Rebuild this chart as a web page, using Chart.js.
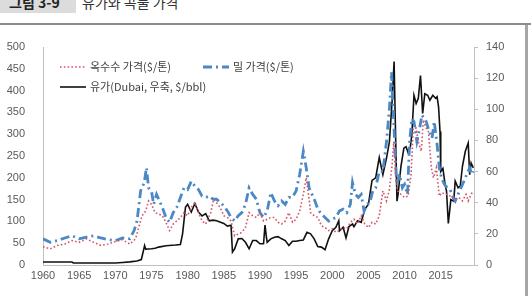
<!DOCTYPE html>
<html>
<head>
<meta charset="utf-8">
<script src="https://cdn.jsdelivr.net/npm/chart.js@4"></script>
<style>
  html, body { margin: 0; padding: 0; background: #fff; }
  body { width: 531px; height: 296px; position: relative; overflow: hidden; font-family: "Noto Sans CJK KR", sans-serif; }
  .fig-no { position: absolute; left: 0; top: -8px; width: 76px; height: 21px; background: #dcdcdc; color: #222; font-weight: bold; font-size: 14px; line-height: 21px; text-indent: 9px; }
  .fig-title { position: absolute; left: 82px; top: -8px; font-size: 14px; line-height: 21px; color: #333; }
  .rule { position: absolute; left: 0; top: 23px; width: 531px; height: 2px; background: #8c8c8c; }
  .frame { position: absolute; left: 525px; top: 25px; width: 3px; height: 271px; background: #a6a6a6; }
  #wrap { position: absolute; left: 0; top: 0; width: 525px; height: 296px; }
</style>
</head>
<body>
<div class="fig-no">그림 3-9</div>
<div class="fig-title">유가와 곡물 가격</div>
<div class="rule"></div>
<div class="frame"></div>
<div id="wrap"><canvas id="chart"></canvas></div>
<script>
// corn price ($/ton), left axis
const cornYears = [1960, 1961, 1962, 1963, 1964, 1965, 1966, 1967, 1968, 1969, 1970, 1971, 1972, 1972.8, 1973.3, 1973.7, 1974.2, 1974.6, 1975, 1975.5, 1976, 1976.5, 1977, 1977.5, 1978, 1978.5, 1979, 1979.5, 1980, 1980.5, 1981, 1981.5, 1982, 1982.5, 1983.2, 1983.6, 1984, 1984.5, 1985, 1985.5, 1986, 1986.5, 1987, 1987.5, 1988, 1988.5, 1989, 1989.5, 1990, 1990.5, 1991, 1991.5, 1992, 1992.5, 1993, 1993.5, 1994, 1994.5, 1995, 1995.5, 1996, 1996.4, 1996.8, 1997, 1997.5, 1998, 1998.5, 1999, 1999.5, 2000, 2000.5, 2001, 2001.5, 2002, 2002.5, 2003, 2003.5, 2004, 2004.5, 2005, 2005.5, 2006, 2006.5, 2007, 2007.5, 2007.9, 2008.3, 2008.5, 2008.8, 2009, 2009.5, 2010, 2010.5, 2010.9, 2011.2, 2011.6, 2011.9, 2012.3, 2012.6, 2012.9, 2013.3, 2013.7, 2014, 2014.4, 2014.8, 2015.2, 2015.6, 2016, 2016.5, 2017, 2017.5, 2018, 2018.5, 2018.8, 2019.2, 2019.5];
const cornPrice = [42, 37, 45, 48, 56, 52, 60, 52, 45, 48, 54, 58, 48, 60, 90, 113, 124, 147, 139, 120, 117, 113, 98, 79, 94, 101, 109, 120, 113, 132, 143, 120, 101, 94, 120, 151, 143, 132, 113, 109, 101, 67, 71, 75, 86, 120, 113, 109, 120, 101, 105, 109, 109, 98, 94, 101, 120, 98, 105, 124, 162, 200, 151, 120, 113, 109, 90, 86, 79, 83, 75, 79, 86, 83, 98, 105, 94, 113, 94, 86, 98, 94, 113, 170, 147, 173, 234, 283, 200, 170, 162, 155, 158, 208, 314, 314, 283, 261, 333, 317, 306, 223, 200, 223, 158, 166, 162, 162, 155, 151, 155, 147, 162, 147, 162, 170];

// wheat price ($/ton), left axis
const wheatYears = [1960, 1961, 1962, 1963, 1964, 1965, 1966, 1967, 1968, 1969, 1970, 1971, 1972, 1972.6, 1973, 1973.5, 1974, 1974.3, 1974.6, 1975, 1975.3, 1975.7, 1976, 1976.5, 1977, 1977.5, 1978, 1978.5, 1979, 1979.5, 1980, 1980.5, 1981, 1981.5, 1982, 1982.5, 1983, 1983.5, 1984, 1984.5, 1985, 1985.5, 1986, 1986.5, 1987, 1987.5, 1988, 1988.5, 1989, 1989.5, 1990, 1990.5, 1991, 1991.5, 1992, 1992.5, 1993, 1993.5, 1994, 1994.5, 1995, 1995.5, 1996, 1996.4, 1996.8, 1997.2, 1997.6, 1998, 1998.5, 1999, 1999.5, 2000, 2000.5, 2001, 2001.5, 2002, 2002.5, 2002.8, 2003.2, 2003.6, 2004, 2004.4, 2004.8, 2005.2, 2005.6, 2006, 2006.5, 2007, 2007.5, 2007.9, 2008.2, 2008.5, 2008.9, 2009.3, 2009.7, 2010, 2010.4, 2010.7, 2011, 2011.3, 2011.7, 2012, 2012.4, 2012.7, 2013, 2013.4, 2013.8, 2014.1, 2014.5, 2014.8, 2015.1, 2015.5, 2015.9, 2016.3, 2016.7, 2017, 2017.4, 2017.8, 2018.2, 2018.6, 2019, 2019.3, 2019.5];
const wheatPrice = [60, 52, 56, 62, 67, 60, 64, 67, 62, 58, 56, 62, 60, 79, 101, 170, 189, 223, 177, 170, 139, 162, 151, 132, 109, 98, 120, 132, 155, 177, 173, 192, 181, 173, 158, 155, 158, 151, 151, 143, 136, 124, 109, 101, 113, 120, 139, 177, 162, 151, 120, 109, 124, 166, 147, 136, 147, 139, 155, 155, 170, 208, 261, 223, 177, 162, 147, 128, 117, 109, 101, 105, 109, 124, 128, 120, 139, 189, 162, 155, 162, 124, 139, 143, 170, 177, 215, 215, 283, 359, 442, 329, 185, 208, 177, 185, 162, 283, 336, 329, 283, 306, 344, 336, 329, 306, 291, 329, 276, 223, 200, 185, 177, 173, 155, 147, 162, 177, 192, 208, 223, 208, 215];

// Dubai crude ($/bbl), right axis
const oilYears = [1960, 1964, 1964.2, 1970, 1971, 1972, 1973, 1973.6, 1974.05, 1974.2, 1975, 1975.5, 1976, 1977, 1978.3, 1979, 1979.3, 1979.7, 1980, 1980.5, 1981, 1981.5, 1982, 1982.5, 1983, 1983.5, 1984, 1985, 1985.5, 1986, 1986.2, 1986.5, 1987, 1987.5, 1988, 1988.5, 1989, 1989.5, 1990, 1990.5, 1990.7, 1990.9, 1991, 1991.5, 1992, 1992.5, 1993, 1993.5, 1994, 1994.5, 1995, 1995.5, 1996, 1996.5, 1997, 1997.5, 1998, 1998.5, 1999, 1999.5, 2000, 2000.5, 2000.9, 2001, 2001.5, 2001.9, 2002.3, 2002.8, 2003, 2003.5, 2004, 2004.5, 2005, 2005.5, 2006, 2006.5, 2007, 2007.5, 2007.9, 2008.3, 2008.55, 2008.7, 2008.95, 2009.1, 2009.5, 2009.9, 2010.2, 2010.5, 2010.8, 2011, 2011.3, 2011.6, 2011.9, 2012.2, 2012.5, 2012.8, 2013.2, 2013.5, 2013.9, 2014.3, 2014.5, 2014.7, 2014.9, 2015, 2015.3, 2015.6, 2015.8, 2016.05, 2016.4, 2016.8, 2017, 2017.4, 2017.7, 2018, 2018.4, 2018.8, 2019, 2019.2, 2019.5];
const oilPrice = [1.9, 1.9, 1.3, 1.3, 1.6, 2.0, 2.6, 3.5, 12.5, 10.2, 10.4, 10.8, 11.5, 12.4, 12.8, 13.2, 20, 37, 39, 34, 39.5, 34, 31.5, 33, 28.4, 28.8, 28.4, 26.7, 25, 25.5, 8.3, 10.4, 16.8, 17, 14.6, 10.4, 15.7, 15.7, 13.6, 13.6, 25.7, 17.8, 14.6, 16.8, 17.8, 18.2, 16.8, 15.7, 12.5, 15.3, 15.3, 15.7, 16.1, 21, 20, 16.8, 11.9, 11.5, 9.8, 16.8, 22, 24.2, 28.4, 22, 24.2, 17.4, 24.6, 26.3, 24.6, 28.4, 27.4, 35.8, 39, 54.3, 56, 69, 58, 68.7, 79, 107, 130.7, 96, 41, 45.4, 63.4, 75, 76, 72, 76, 83.6, 109, 103.7, 107, 121.7, 97.4, 110, 109, 105.8, 109, 107, 108, 101.6, 85.7, 60, 62, 51.8, 47.5, 26.7, 42, 41, 53.9, 49.6, 50.7, 63.4, 73, 78.3, 58, 65.5, 62.4];

const legendLabels = ["옥수수 가격($/톤)", "밀 가격($/톤)", "유가(Dubai, 우축, $/bbl)"];
const leftTicks = [0, 50, 100, 150, 200, 250, 300, 350, 400, 450, 500];
const rightTicks = [0, 20, 40, 60, 80, 100, 120, 140];
const yearTicks = [1960, 1965, 1970, 1975, 1980, 1985, 1990, 1995, 2000, 2005, 2010, 2015];

const pts = (xs, ys) => xs.map((x, i) => ({ x: x, y: ys[i] }));

// legend drawn inside the plot like the excel original
const innerLegend = {
  id: "innerLegend",
  afterDraw(chart) {
    const ctx = chart.ctx;
    const slots = [[60, 67], [203, 67], [60, 87]];
    ctx.save();
    ctx.font = "11px 'Noto Sans CJK KR'";
    ctx.fillStyle = "#404040";
    ctx.textBaseline = "middle";
    chart.data.datasets.forEach((ds, i) => {
      const [x, y] = slots[i];
      ctx.beginPath();
      ctx.strokeStyle = ds.borderColor;
      ctx.lineWidth = ds.borderWidth;
      ctx.setLineDash(ds.borderDash || []);
      ctx.moveTo(x, y);
      ctx.lineTo(x + 26, y);
      ctx.stroke();
      ctx.setLineDash([]);
      ctx.fillText(ds.label, x + 30, y);
    });
    ctx.restore();
  }
};

const tickFont = { family: "'Liberation Sans', sans-serif", size: 11 };

new Chart(document.getElementById("chart").getContext("2d"), {
  type: "line",
  data: {
    datasets: [
      {
        label: legendLabels[0],
        data: pts(cornYears, cornPrice),
        borderColor: "#d2566a",
        borderWidth: 1.6,
        borderDash: [1.6, 2.2],
        yAxisID: "y",
      },
      {
        label: legendLabels[1],
        data: pts(wheatYears, wheatPrice),
        borderColor: "#4a88c6",
        borderWidth: 2.8,
        borderDash: [9, 4, 2, 4],
        yAxisID: "y",
      },
      {
        label: legendLabels[2],
        data: pts(oilYears, oilPrice),
        borderColor: "#111111",
        borderWidth: 1.6,
        yAxisID: "y1",
      },
    ],
  },
  options: {
    responsive: true,
    maintainAspectRatio: false,
    animation: false,
    elements: { point: { radius: 0 }, line: { tension: 0 } },
    layout: { padding: { top: 47, left: 0, right: 0, bottom: 0 } },
    plugins: { legend: { display: false }, tooltip: { enabled: false } },
    scales: {
      x: {
        type: "linear",
        min: 1960,
        max: 2019.6,
        afterBuildTicks: (s) => { s.ticks = yearTicks.map((v) => ({ value: v })); },
        afterFit: (s) => { s.height = 31; },
        ticks: { color: "#595959", font: tickFont, padding: 4, maxRotation: 0, callback: (v) => String(v) },
        grid: { drawOnChartArea: false, drawTicks: false },
        border: { color: "#bfbfbf", width: 1 },
      },
      y: {
        position: "left",
        min: 0,
        max: 500,
        afterBuildTicks: (s) => { s.ticks = leftTicks.map((v) => ({ value: v })); },
        afterFit: (s) => { s.width = 43; },
        ticks: { color: "#595959", font: tickFont, padding: 10 },
        grid: { display: false },
        border: { color: "#bfbfbf", width: 1 },
      },
      y1: {
        position: "right",
        min: 0,
        max: 140,
        afterBuildTicks: (s) => { s.ticks = rightTicks.map((v) => ({ value: v })); },
        afterFit: (s) => { s.width = 51; },
        ticks: { color: "#595959", font: tickFont, padding: 8 },
        grid: { drawOnChartArea: false, drawTicks: true, tickLength: 4, color: "#bfbfbf" },
        border: { color: "#bfbfbf", width: 1 },
      },
    },
  },
  plugins: [innerLegend],
});
</script>
</body>
</html>
